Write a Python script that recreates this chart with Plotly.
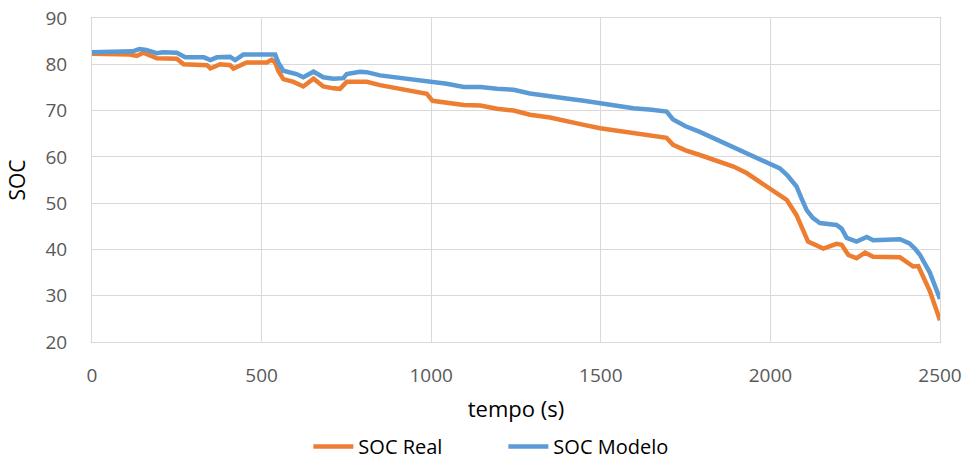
import plotly.graph_objects as go

# SOC Modelo (blue)
t_modelo = [0, 60, 120, 140, 160, 190, 210, 250, 275, 330, 349, 368, 407, 422, 446, 540, 549, 564,
            603, 623, 653, 682, 712, 741, 751, 790, 810, 849, 898, 948, 1000, 1046, 1096, 1145,
            1194, 1243, 1291, 1350, 1399, 1450, 1498, 1550, 1596, 1650, 1694, 1713, 1750, 1792,
            1840, 1891, 1940, 1989, 2028, 2050, 2077, 2092, 2107, 2125, 2146, 2195, 2210, 2225,
            2254, 2284, 2303, 2382, 2410, 2426, 2441, 2470, 2500]
soc_modelo = [82.6, 82.8, 82.8, 83.3, 83.1, 82.4, 82.6, 82.5, 81.5, 81.5, 80.9, 81.5, 81.6, 80.9,
              82.1, 82.1, 80.4, 78.6, 77.9, 77.2, 78.4, 77.2, 76.9, 77.0, 77.9, 78.4, 78.3, 77.6,
              77.2, 76.7, 76.2, 75.8, 75.1, 75.1, 74.7, 74.5, 73.7, 73.2, 72.6, 72.1, 71.6, 71.0,
              70.5, 70.2, 69.8, 68.1, 66.6, 65.4, 63.8, 62.2, 60.6, 59.0, 57.5, 56.0, 53.6, 51.0,
              48.5, 46.8, 45.7, 45.3, 44.5, 42.5, 41.7, 42.7, 42.0, 42.2, 41.3, 40.2, 38.8, 35.0,
              29.3]

# SOC Real (orange)
t_real = [0, 112, 132, 151, 191, 250, 270, 339, 349, 378, 407, 417, 456, 515, 530, 540, 549, 564,
          594, 623, 653, 682, 712, 731, 751, 810, 849, 898, 948, 987, 1004, 1046, 1096, 1145, 1194,
          1243, 1291, 1350, 1399, 1450, 1498, 1550, 1596, 1650, 1694, 1713, 1750, 1792, 1840, 1891,
          1930, 1960, 2000, 2048, 2077, 2092, 2111, 2156, 2195, 2210, 2230, 2254, 2279, 2303, 2382,
          2421, 2436, 2470, 2500]
soc_real = [82.3, 82.1, 81.8, 82.5, 81.3, 81.2, 80.0, 79.8, 79.1, 80.0, 79.8, 79.1, 80.4, 80.4,
            81.0, 80.4, 78.6, 76.8, 76.2, 75.2, 76.9, 75.2, 74.8, 74.7, 76.2, 76.2, 75.5, 74.8,
            74.3, 73.6, 72.1, 71.8, 71.2, 71.1, 70.4, 70.0, 69.1, 68.5, 67.6, 66.9, 66.2, 65.6,
            65.2, 64.6, 64.1, 62.6, 61.4, 60.4, 59.2, 57.9, 56.5, 55.0, 53.2, 50.7, 47.4, 44.9,
            41.7, 40.2, 41.2, 41.0, 38.8, 38.1, 39.3, 38.4, 38.3, 36.3, 36.4, 31.0, 24.7]

x_ticks = [0, 500, 1000, 1500, 2000, 2500]
y_ticks = [20, 30, 40, 50, 60, 70, 80, 90]

fig = go.Figure()
fig.add_trace(go.Scatter(x=t_real, y=soc_real, mode="lines", name="SOC Real",
                         line=dict(color="#ED7D31", width=4.5)))
fig.add_trace(go.Scatter(x=t_modelo, y=soc_modelo, mode="lines", name="SOC Modelo",
                         line=dict(color="#5B9BD5", width=4.5)))

grid = "#D9D9D9"
fig.update_layout(
    width=968, height=466,
    margin=dict(l=92, r=28, t=18, b=124, autoexpand=False),
    paper_bgcolor="white", plot_bgcolor="white",
    showlegend=True,
    legend=dict(orientation="h", x=0.52, xanchor="center", xref="container",
                y=0, yanchor="bottom", yref="container",
                font=dict(family="Open Sans, sans-serif", size=20, color="#000000"),
                itemwidth=40, entrywidth=140, tracegroupgap=0),
    xaxis=dict(range=[0, 2500], tickvals=x_ticks, showgrid=True, gridcolor=grid, gridwidth=1,
               zeroline=False, showline=True, linecolor=grid, linewidth=1, ticks="",
               ticklabelstandoff=16,
               tickfont=dict(family="Open Sans, sans-serif", size=19, color="#595959"),
               title=dict(text="tempo (s)", standoff=14,
                          font=dict(family="Open Sans, sans-serif", size=22, color="#000000"))),
    yaxis=dict(range=[20, 90], tickvals=y_ticks, showgrid=True, gridcolor=grid, gridwidth=1,
               zeroline=False, showline=True, linecolor=grid, linewidth=1, ticks="",
               ticklabelstandoff=20,
               tickfont=dict(family="Open Sans, sans-serif", size=19, color="#595959"),
               title=dict(text="SOC", standoff=14,
                          font=dict(family="Open Sans, sans-serif", size=21, color="#000000"))),
)
fig.update_xaxes(mirror=True)
fig.update_yaxes(mirror=True)

fig.write_html("out.html")
